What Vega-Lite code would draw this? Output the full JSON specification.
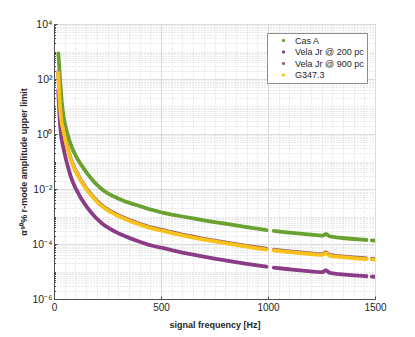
{
  "$schema": "https://vega.github.io/schema/vega-lite/v6.json",
  "width": 321,
  "height": 275,
  "autosize": {"type": "none"},
  "padding": {"left": 54, "top": 24, "right": 40, "bottom": 38},
  "background": "white",
  "config": {
    "font": "Liberation Sans",
    "view": {"stroke": "#a6a6a6", "strokeWidth": 1},
    "axis": {"labelFont": "Liberation Sans", "titleFont": "Liberation Sans", "labelColor": "#262626", "titleColor": "#262626", "domainColor": "#4d4d4d", "tickColor": "#4d4d4d"}
  },
  "data": {"values": [
    {"f":20,"g":1,"a":850,"b":40,"c":182,"y":170},
    {"f":22,"g":1,"a":550,"b":16.7,"c":75,"y":70},
    {"f":25,"g":1,"a":250,"b":5.95,"c":26.8,"y":25},
    {"f":28,"g":1,"a":110,"b":2.38,"c":10.7,"y":10},
    {"f":32,"g":1,"a":40,"b":1.07,"c":4.8,"y":4.5},
    {"f":36,"g":1,"a":16,"b":0.6,"c":2.7,"y":2.5},
    {"f":40,"g":1,"a":8,"b":0.43,"c":1.93,"y":1.8},
    {"f":45,"g":1,"a":4.2,"b":0.286,"c":1.28,"y":1.2},
    {"f":50,"g":1,"a":2.6,"b":0.19,"c":0.86,"y":0.8},
    {"f":56,"g":1,"a":1.6,"b":0.119,"c":0.535,"y":0.5},
    {"f":62,"g":1,"a":1.05,"b":0.0786,"c":0.353,"y":0.33},
    {"f":70,"g":1,"a":0.65,"b":0.0476,"c":0.214,"y":0.2},
    {"f":78,"g":1,"a":0.43,"b":0.0286,"c":0.128,"y":0.12},
    {"f":88,"g":1,"a":0.27,"b":0.0179,"c":0.08,"y":0.075},
    {"f":100,"g":1,"a":0.17,"b":0.011,"c":0.049,"y":0.046},
    {"f":112,"g":1,"a":0.115,"b":0.0074,"c":0.033,"y":0.031},
    {"f":125,"g":1,"a":0.08,"b":0.00476,"c":0.0214,"y":0.02},
    {"f":140,"g":1,"a":0.054,"b":0.00314,"c":0.0141,"y":0.0132},
    {"f":155,"g":1,"a":0.037,"b":0.00214,"c":0.0096,"y":0.009},
    {"f":170,"g":1,"a":0.026,"b":0.00152,"c":0.00685,"y":0.0064},
    {"f":185,"g":1,"a":0.019,"b":0.00112,"c":0.00503,"y":0.0047},
    {"f":200,"g":1,"a":0.0145,"b":0.00083,"c":0.00375,"y":0.0035},
    {"f":220,"g":1,"a":0.0103,"b":0.000595,"c":0.00268,"y":0.0025},
    {"f":240,"g":1,"a":0.0079,"b":0.000452,"c":0.00203,"y":0.0019},
    {"f":260,"g":1,"a":0.0064,"b":0.000362,"c":0.00163,"y":0.00152},
    {"f":280,"g":1,"a":0.0053,"b":0.000298,"c":0.00134,"y":0.00125},
    {"f":300,"g":1,"a":0.0045,"b":0.000248,"c":0.00111,"y":0.00104},
    {"f":330,"g":1,"a":0.0036,"b":0.000195,"c":0.00088,"y":0.00082},
    {"f":360,"g":1,"a":0.003,"b":0.000157,"c":0.000706,"y":0.00066},
    {"f":400,"g":1,"a":0.0024,"b":0.000121,"c":0.000546,"y":0.00051},
    {"f":440,"g":1,"a":0.0019,"b":0.000095,"c":0.000428,"y":0.0004},
    {"f":470,"g":1,"a":0.00165,"b":0.000083,"c":0.000375,"y":0.00035},
    {"f":497,"g":1,"a":0.00145,"b":0.000074,"c":0.000332,"y":0.00031},
    {"f":507,"g":2,"a":0.00139,"b":0.0000726,"c":0.000326,"y":0.000305},
    {"f":550,"g":2,"a":0.00118,"b":0.0000595,"c":0.000268,"y":0.00025},
    {"f":600,"g":2,"a":0.001,"b":0.0000488,"c":0.000219,"y":0.000205},
    {"f":650,"g":2,"a":0.00086,"b":0.000041,"c":0.000184,"y":0.000172},
    {"f":700,"g":2,"a":0.00073,"b":0.0000345,"c":0.000155,"y":0.000145},
    {"f":750,"g":2,"a":0.00063,"b":0.0000295,"c":0.000133,"y":0.000124},
    {"f":800,"g":2,"a":0.000545,"b":0.0000255,"c":0.000114,"y":0.000107},
    {"f":850,"g":2,"a":0.000475,"b":0.0000219,"c":0.0000984,"y":0.000092},
    {"f":900,"g":2,"a":0.000415,"b":0.000019,"c":0.0000856,"y":0.00008},
    {"f":950,"g":2,"a":0.00036,"b":0.0000167,"c":0.0000749,"y":0.00007},
    {"f":993,"g":2,"a":0.00032,"b":0.000015,"c":0.0000674,"y":0.000063},
    {"f":1027,"g":3,"a":0.000298,"b":0.0000138,"c":0.0000621,"y":0.000058},
    {"f":1075,"g":3,"a":0.000272,"b":0.0000126,"c":0.0000567,"y":0.000053},
    {"f":1125,"g":3,"a":0.000248,"b":0.0000115,"c":0.0000519,"y":0.0000485},
    {"f":1175,"g":3,"a":0.000227,"b":0.0000106,"c":0.0000476,"y":0.0000445},
    {"f":1225,"g":3,"a":0.000209,"b":0.00000976,"c":0.0000439,"y":0.000041},
    {"f":1250,"g":3,"a":0.000202,"b":0.00000952,"c":0.0000428,"y":0.00004},
    {"f":1258,"g":3,"a":0.000207,"b":0.00000975,"c":0.0000438,"y":0.000041},
    {"f":1265,"g":3,"a":0.000222,"b":0.0000106,"c":0.0000475,"y":0.0000444},
    {"f":1271,"g":3,"a":0.000232,"b":0.0000111,"c":0.0000498,"y":0.0000465},
    {"f":1277,"g":3,"a":0.000219,"b":0.0000104,"c":0.0000468,"y":0.0000437},
    {"f":1285,"g":3,"a":0.000195,"b":0.0000092,"c":0.0000413,"y":0.0000386},
    {"f":1295,"g":3,"a":0.000184,"b":0.0000087,"c":0.0000391,"y":0.0000365},
    {"f":1320,"g":3,"a":0.000174,"b":0.0000082,"c":0.0000369,"y":0.0000345},
    {"f":1360,"g":3,"a":0.000162,"b":0.00000774,"c":0.0000348,"y":0.0000325},
    {"f":1400,"g":3,"a":0.000152,"b":0.00000726,"c":0.0000326,"y":0.0000305},
    {"f":1440,"g":3,"a":0.000144,"b":0.0000069,"c":0.000031,"y":0.000029},
    {"f":1460,"g":3,"a":0.00014,"b":0.00000671,"c":0.0000302,"y":0.0000282},
    {"f":1485,"g":4,"a":0.000136,"b":0.00000655,"c":0.0000294,"y":0.0000275},
    {"f":1500,"g":4,"a":0.000133,"b":0.00000643,"c":0.0000289,"y":0.000027}
  ]},
  "transform": [{"fold": ["a", "b", "c", "y"], "as": ["k", "v"]}],
  "mark": {"type": "line", "strokeWidth": 3.8, "strokeCap": "round", "strokeJoin": "round", "clip": true},
  "encoding": {
    "x": {
      "field": "f", "type": "quantitative",
      "scale": {"domain": [0, 1500], "nice": false, "zero": false},
      "axis": {
        "title": "signal frequency [Hz]",
        "titleFontSize": 9, "titleFontWeight": "bold", "titlePadding": 5,
        "values": [0,50,100,150,200,250,300,350,400,450,500,550,600,650,700,750,800,850,900,950,1000,1050,1100,1150,1200,1250,1300,1350,1400,1450,1500],
        "format": "d",
        "labelExpr": "datum.value % 500 == 0 ? datum.label : ''",
        "labelFontSize": 10, "labelPadding": 6, "labelFlush": false, "labelOverlap": false,
        "grid": true,
        "gridColor": {"condition": {"test": "datum.value % 500 == 0", "value": "#dcdcdc"}, "value": "#d4d4d4"},
        "gridDash": {"condition": {"test": "datum.value % 500 == 0", "value": []}, "value": [1, 2]},
        "tickSize": {"condition": {"test": "datum.value % 500 == 0", "value": -3}, "value": 0},
        "domainColor": "#4d4d4d"
      }
    },
    "y": {
      "field": "v", "type": "quantitative",
      "scale": {"type": "log", "domain": [0.000001, 10000], "nice": false},
      "axis": {
        "title": "α⁹⁰% r-mode amplitude upper limit",
        "titleFontSize": 9, "titleFontWeight": "bold", "titlePadding": 3,
        "values": [0.000001,0.000002,0.000003,0.000004,0.000005,0.000006,0.000007,0.000008,0.000009,
                   0.00001,0.00002,0.00003,0.00004,0.00005,0.00006,0.00007,0.00008,0.00009,
                   0.0001,0.0002,0.0003,0.0004,0.0005,0.0006,0.0007,0.0008,0.0009,
                   0.001,0.002,0.003,0.004,0.005,0.006,0.007,0.008,0.009,
                   0.01,0.02,0.03,0.04,0.05,0.06,0.07,0.08,0.09,
                   0.1,0.2,0.3,0.4,0.5,0.6,0.7,0.8,0.9,
                   1,2,3,4,5,6,7,8,9,
                   10,20,30,40,50,60,70,80,90,
                   100,200,300,400,500,600,700,800,900,
                   1000,2000,3000,4000,5000,6000,7000,8000,9000,10000],
        "labelExpr": "abs(log(datum.value)/LN10 - 2*round(log(datum.value)/LN10/2)) < 0.01 ? (round(log(datum.value)/LN10) == 4 ? '10⁴' : round(log(datum.value)/LN10) == 2 ? '10²' : round(log(datum.value)/LN10) == 0 ? '10⁰' : round(log(datum.value)/LN10) == -2 ? '10⁻²' : round(log(datum.value)/LN10) == -4 ? '10⁻⁴' : '10⁻⁶') : ''",
        "labelFontSize": 10.5, "labelPadding": 5, "labelFlush": false, "labelOverlap": false,
        "grid": true,
        "gridColor": {"condition": {"test": "abs(log(datum.value)/LN10 - 2*round(log(datum.value)/LN10/2)) < 0.01", "value": "#dcdcdc"}, "value": "#d4d4d4"},
        "gridDash": {"condition": {"test": "abs(log(datum.value)/LN10 - 2*round(log(datum.value)/LN10/2)) < 0.01", "value": []}, "value": [1, 2]},
        "tickSize": {"condition": {"test": "abs(log(datum.value)/LN10 - 2*round(log(datum.value)/LN10/2)) < 0.01", "value": -3}, "value": -1.5},
        "domainColor": "#4d4d4d"
      }
    },
    "color": {
      "field": "k", "type": "nominal",
      "scale": {"domain": ["a", "b", "c", "y"], "range": ["#6aa232", "#8b3c87", "#a0626c", "#f7c31a"]},
      "legend": {
        "title": null, "orient": "none", "legendX": 213, "legendY": 9,
        "labelExpr": "datum.label == 'a' ? 'Cas A' : datum.label == 'b' ? 'Vela Jr @ 200 pc' : datum.label == 'c' ? 'Vela Jr @ 900 pc' : 'G347.3'",
        "labelFont": "Liberation Sans", "labelFontSize": 9, "labelColor": "#262626",
        "symbolType": "circle", "symbolSize": 3, "symbolStrokeWidth": 1.5,
        "symbolOffset": 9, "labelOffset": 7, "rowPadding": 1.5, "padding": 3,
        "fillColor": "white", "strokeColor": "#8c8c8c"
      }
    },
    "detail": {"field": "g", "type": "nominal"}
  }
}
